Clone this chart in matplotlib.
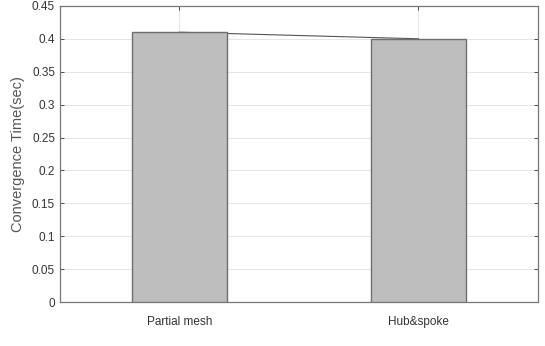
import matplotlib
matplotlib.use("Agg")
import matplotlib.pyplot as plt

# Data
categories = ["Partial mesh", "Hub&spoke"]
conv_time = [0.41, 0.40]
yticks = [0, 0.05, 0.1, 0.15, 0.2, 0.25, 0.3, 0.35, 0.4, 0.45]

plt.rcParams["font.family"] = ["Liberation Sans", "DejaVu Sans"]

fig = plt.figure(figsize=(5.45, 3.46), dpi=100)
ax = fig.add_axes([0.110, 0.127, 0.877, 0.856])

x = [1, 2]
ax.plot(x, conv_time, color="#555555", linewidth=0.8, zorder=2)
ax.bar(x, conv_time, width=0.4, color="#bebebe", edgecolor="#6e6e6e",
       linewidth=1.0, zorder=3)

ax.set_xlim(0.5, 2.5)
ax.set_ylim(0, 0.45)
ax.set_xticks(x)
ax.set_xticklabels(categories)
ax.set_yticks(yticks)
ax.set_yticklabels([f"{t:g}" for t in yticks])

ax.grid(True, color="#e6e6e6", linewidth=0.7, zorder=0)
ax.set_axisbelow(True)
ax.tick_params(axis="both", labelsize=8.5, colors="#333333", direction="in",
               length=3, top=True, right=True, width=0.6)
ax.tick_params(axis="x", pad=10)
for s in ax.spines.values():
    s.set_color("#777777")
    s.set_linewidth(0.9)

ax.set_ylabel("Convergence Time(sec)", fontsize=10.5, color="#555555", labelpad=5)

fig.savefig("out.png", dpi=100)
